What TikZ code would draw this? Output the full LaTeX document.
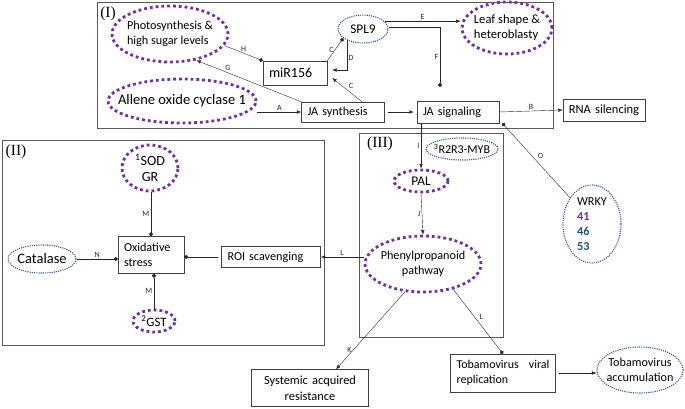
\documentclass[tikz,border=0pt]{standalone}
\usepackage{fontspec}
\setmainfont{Carlito}
\newfontfamily\panelfont{Liberation Serif}
\usetikzlibrary{arrows.meta,shapes.geometric}

\definecolor{ringpurple}{RGB}{112,48,160}
\definecolor{ringblue}{RGB}{47,85,151}
\definecolor{wrkyblue}{RGB}{31,78,121}

\tikzset{
            genebox/.style = {draw=black!75, thin, inner xsep=6pt, inner ysep=2pt, align=left},
            purpring/.style = {ellipse, draw=ringpurple, line width=2.8pt, dash pattern=on 2.8pt off 3pt, inner sep=0pt},
            bluering/.style = {ellipse, draw=ringblue, line width=1.1pt, dash pattern=on 1.1pt off 1.1pt, inner sep=0pt},
            panelframe/.style = {draw=black!65, thin},
            panellabel/.style = {font=\panelfont\fontsize{15.5}{17}\selectfont},
            edgelabel/.style = {font=\fontsize{8}{9}\selectfont, text=black!85, inner sep=1.5pt},
            actarrow/.style = {draw=black!85, thin, -{Latex[length=4.5pt,width=3.5pt]}},
            dotarrow/.style = {draw=black!85, thin, -{Circle[length=4pt]}}
        }

\begin{document}
\begin{tikzpicture}[x=1pt, y=-1pt, font={\fontsize{12.2}{15}\selectfont}]
            \useasboundingbox (0,0) rectangle (685,408);

            \draw[panelframe] (97,2) rectangle (553,128);
            \draw[panelframe] (2,140) rectangle (324,345);
            \draw[panelframe] (359,133) rectangle (503,337);
            \node[panellabel] (labI) at (108,14) {(I)};
            \node[panellabel] (labII) at (16,152) {(II)};
            \node[panellabel] (labIII) at (380,144) {(III)};

            
            \node[purpring, minimum width=116pt, minimum height=56pt, inner xsep=-3pt, align=left] (photo) at (170,34) {Photosynthesis \&\\high sugar levels};
            \node[bluering, minimum width=50pt, minimum height=28pt, font=\fontsize{13.3}{15}\selectfont] (spl) at (363,29) {SPL9};
            \node[genebox, text width=52pt, minimum height=24pt, font=\fontsize{14}{16}\selectfont] (mir) at (295,73) {miR156};
            \node[purpring, minimum width=148pt, minimum height=44pt, inner xsep=-12pt, font=\fontsize{14.5}{16}\selectfont] (aoc) at (182,101) {Allene oxide cyclase 1};
            \node[genebox, text width=71pt, minimum height=20pt] (jas) at (343,112) {JA synthesis};
            \node[genebox, text width=70pt, minimum height=22pt] (jasig) at (458,112) {JA signaling};
            \node[genebox, text width=76pt, inner xsep=3pt, minimum height=22pt, align=center, font=\fontsize{12.5}{14}\selectfont] (rna) at (604,110) {RNA silencing};
            \node[purpring, minimum width=90pt, minimum height=52pt, inner xsep=-2pt, align=left, font=\fontsize{12.6}{15}\selectfont] (leaf) at (507,28) {Leaf shape \&\\heteroblasty};

            
            \node[purpring, minimum width=56pt, minimum height=46pt, align=center, font=\fontsize{14}{16}\selectfont] (sod) at (150,168) {\textsuperscript{1}SOD\\GR};
            \node[genebox, text width=54pt, minimum height=37pt] (ox) at (151,255) {Oxidative\\stress};
            \node[bluering, minimum width=68pt, minimum height=28pt, inner xsep=-1pt, font=\fontsize{14.5}{16}\selectfont] (cat) at (42,259) {Catalase};
            \node[purpring, minimum width=42pt, minimum height=22pt, inner xsep=-1pt, font=\fontsize{12.8}{14}\selectfont] (gst) at (154,321) {\textsuperscript{2}GST};
            \node[genebox, text width=87pt, minimum height=21pt] (roi) at (271,257) {ROI scavenging};

            
            \node[bluering, minimum width=72pt, minimum height=22pt, inner xsep=-6pt, font=\fontsize{12}{13}\selectfont] (myb) at (462,149) {\textsuperscript{3}R2R3-MYB};
            \node[purpring, minimum width=54pt, minimum height=22pt, font=\fontsize{13.3}{15}\selectfont] (pal) at (421,181) {PAL};
            \node[purpring, minimum width=116pt, minimum height=56pt, inner xsep=-2pt, align=center] (phen) at (423,264) {Phenylpropanoid\\pathway};
            \node[genebox, text width=105pt, minimum height=37pt, align=center, font=\fontsize{12.4}{16}\selectfont] (sar) at (310,388) {Systemic acquired\\resistance};
            \node[genebox, text width=93pt, minimum height=38pt, font=\fontsize{12}{15}\selectfont] (tob) at (503,373) {Tobamovirus\hfill viral\\replication};
            \node[bluering, minimum width=86pt, minimum height=46pt, inner xsep=-4pt, align=center] (acc) at (640,370) {Tobamovirus\\accumulation};
            \node[bluering, minimum width=58pt, minimum height=78pt, align=left] (wrky) at (592,224) {WRKY\\\textcolor{ringpurple}{\textbf{41}}\\\textcolor{wrkyblue}{\textbf{46}}\\\textcolor{wrkyblue}{\textbf{53}}};

            \coordinate (fend) at (440,87);

            
            \draw[actarrow] (aoc.east |- jas.west) -- node[edgelabel, above] (lA) {A} (jas.west);
            \draw[actarrow, shorten <=3pt, shorten >=3pt] (jas.east) -- (jasig.west);
            \draw[actarrow] ([xshift=19pt]jas.north) -- node[edgelabel, above right] (lC) {C} ([shift={(5,5)}]mir.east);
            \draw[actarrow] (jas.north west) -- node[edgelabel, pos=0.7, above=1pt] (lG) {G} (photo.-45);
            \draw[dotarrow] (photo.-12) -- node[edgelabel, above] (lH) {H} (mir.north west);
            \draw[dotarrow] (mir.north east) -- node[edgelabel, left] (lCtop) {C} (spl.205);
            \draw[actarrow] (spl.215) |- node[edgelabel, right, pos=0.3] (lD) {D} ([shift={(5,-3)}]mir.east);
            \draw[actarrow] (spl.20) -- node[edgelabel, above] (lE) {E} (spl.20 -| leaf.west);
            \draw[dotarrow] ([yshift=2pt]spl.east) -| node[edgelabel, left, pos=0.75] (lF) {F} (fend);
            \draw[actarrow] (jasig.east) -- node[edgelabel, above] (lB) {B} (rna.west);
            \draw[dotarrow] (wrky.130) -- node[edgelabel, above right] (lO) {O} ([xshift=3pt]jasig.south east);

            
            \draw[actarrow] (pal.north |- jasig.south) -- node[edgelabel, left] (lI) {I} (pal.north);
            \draw[actarrow] (pal.south) -- node[edgelabel, left] (lJ) {J} (phen.north);
            \draw[actarrow] (phen.west |- roi.east) -- node[edgelabel, above] (lL) {L} (roi.east);
            \draw[actarrow] (phen.237) -- node[edgelabel, left, pos=0.75] (lK) {K} ([xshift=26pt]sar.north);
            \draw[dotarrow] (phen.-40) -- node[edgelabel, above right] (lLtob) {L} (tob.north);
            \draw[actarrow, shorten <=3pt] (tob.east) -- (tob.east -| acc.west);

            
            \draw[dotarrow] (ox.north |- sod.south) -- node[edgelabel, left] (lM) {M} (ox.north);
            \draw[dotarrow] (gst.north) -- node[edgelabel, left] (lMbot) {M} (gst.north |- ox.south);
            \draw[dotarrow] (cat.east) -- node[edgelabel, above] (lN) {N} (cat.east -| ox.west);
            \draw[dotarrow, shorten <=3pt] (roi.west) -- (roi.west -| ox.east);
        \end{tikzpicture}
\end{document}
